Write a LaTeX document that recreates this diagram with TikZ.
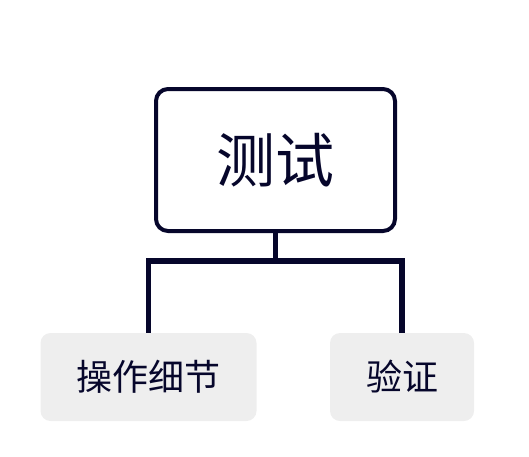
\documentclass[tikz,border=0pt]{standalone}
\usepackage{fontspec}
\newfontfamily\cjk{Noto Sans CJK SC}
\definecolor{ink}{HTML}{06062B}
\definecolor{pale}{HTML}{EEEEEE}
\tikzset{
	leaf/.style = {fill = pale, rounded corners = 10pt, minimum height = 88pt, text = ink, font = \cjk\fontsize{36}{42}\selectfont},
	link/.style = {draw = ink, line width = 5.5pt}
}
\begin{document}
\begin{tikzpicture} [x = 1pt, y = -1pt]
	\useasboundingbox (0,0) rectangle (529,456);
	\node [draw = ink, line width = 4pt, rounded corners = 12pt, minimum width = 239pt, minimum height = 142pt, text = ink, font = \cjk\fontsize{59}{64}\selectfont] (test) at (275.5,160) {测试};
	\node [leaf, minimum width = 216pt] (steps) at (148.5,377) {操作细节};
	\node [leaf, minimum width = 144pt] (verify) at (402,377) {验证};
	\draw [link] (test.south) -- ++(0,28) coordinate (split);
	\draw [link] (steps.north) |- (split) -| (verify.north);
\end{tikzpicture}
\end{document}
